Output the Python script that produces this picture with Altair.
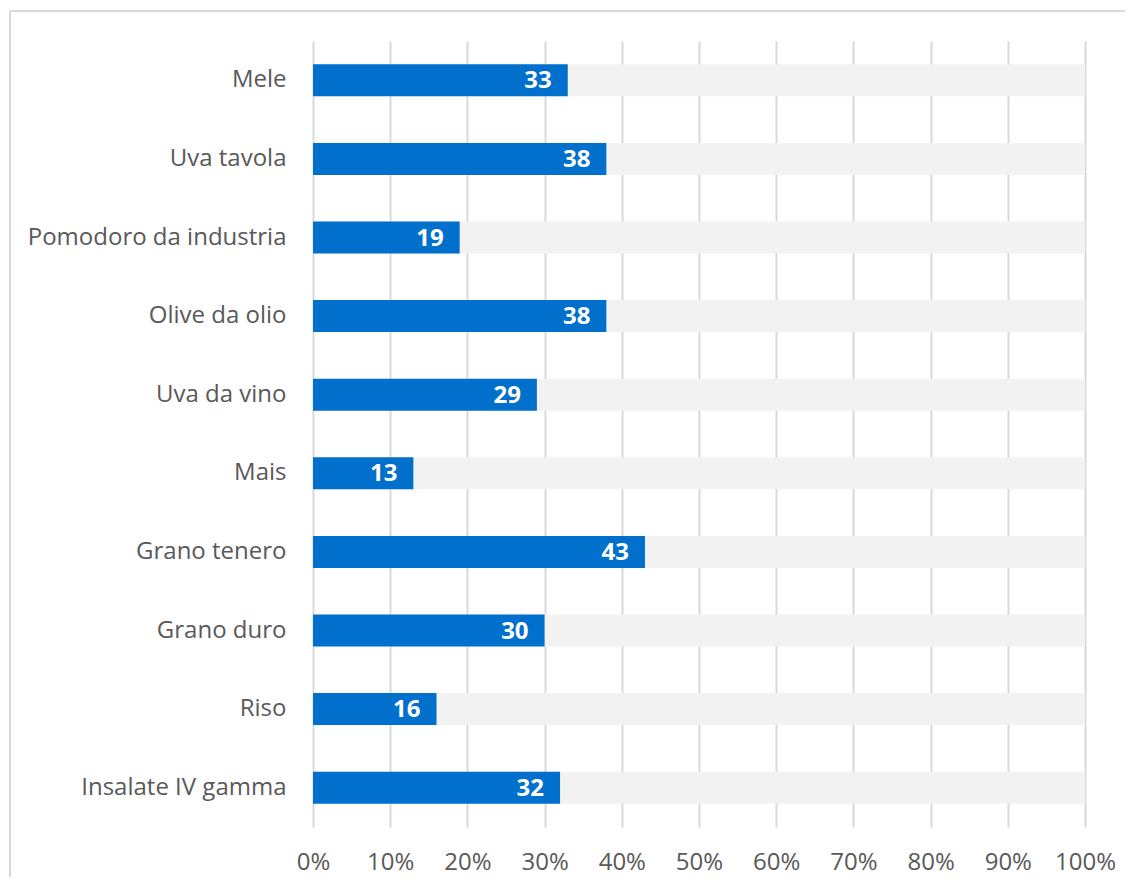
import altair as alt
import pandas as pd

categories = ["Mele", "Uva tavola", "Pomodoro da industria", "Olive da olio", "Uva da vino",
              "Mais", "Grano tenero", "Grano duro", "Riso", "Insalate IV gamma"]
values = [33, 38, 19, 38, 29, 13, 43, 30, 16, 32]
totals = [100] * len(categories)

df = pd.DataFrame({"cat": categories, "val": values, "tot": totals})

FONT = "Open Sans"
FS = 24
H = 786
W = 772
step = H / len(categories)
pi = 1 - 32 / step

yenc = alt.Y("cat:N", sort=categories,
             scale=alt.Scale(paddingInner=pi, paddingOuter=pi / 2),
             axis=alt.Axis(title=None, domain=False, ticks=False, labelPadding=27, labelLimit=500,
                           labelFontSize=FS, labelColor="#595959", labelFont=FONT, grid=False))
xscale = alt.Scale(domain=[0, 100], nice=False)

base = alt.Chart(df)

bg = base.mark_bar(color="#f2f2f2").encode(
    y=yenc,
    x=alt.X("tot:Q", scale=xscale,
            axis=alt.Axis(title=None, values=list(range(0, 101, 10)), labelExpr="datum.value + '%'",
                          domain=False, ticks=False, labelPadding=23, labelFontSize=FS,
                          labelFlush=False, labelOverlap=False,
                          labelColor="#595959", labelFont=FONT, grid=True, gridColor="#d9d9d9",
                          gridWidth=2)),
)

bars = base.mark_bar(color="#0070cc").encode(
    y=alt.Y("cat:N", sort=categories),
    x=alt.X("val:Q", scale=xscale),
)

labels = base.mark_text(align="right", baseline="middle", dx=-16, dy=1, color="white",
                        fontWeight="bold", fontSize=24, font=FONT).encode(
    y=alt.Y("cat:N", sort=categories),
    x=alt.X("val:Q", scale=xscale),
    text=alt.Text("val:Q"),
)

frame_top = alt.Chart(pd.DataFrame({"a": [0]})).mark_rule(color="#d9d9d9", strokeWidth=2).encode(
    x=alt.value(-303), x2=alt.value(900), y=alt.value(-30))
frame_left = alt.Chart(pd.DataFrame({"a": [0]})).mark_rule(color="#d9d9d9", strokeWidth=2).encode(
    x=alt.value(-303), y=alt.value(-30), y2=alt.value(900))

chart = alt.layer(bg, bars, labels, frame_top, frame_left).properties(
    width=W, height=H,
    autosize=alt.AutoSizeParams(type="none"),
    padding={"left": 305, "top": 33, "right": 40, "bottom": 50},
).configure_view(stroke=None)

chart.save("out.html", embed_options={"renderer": "svg", "actions": False})
